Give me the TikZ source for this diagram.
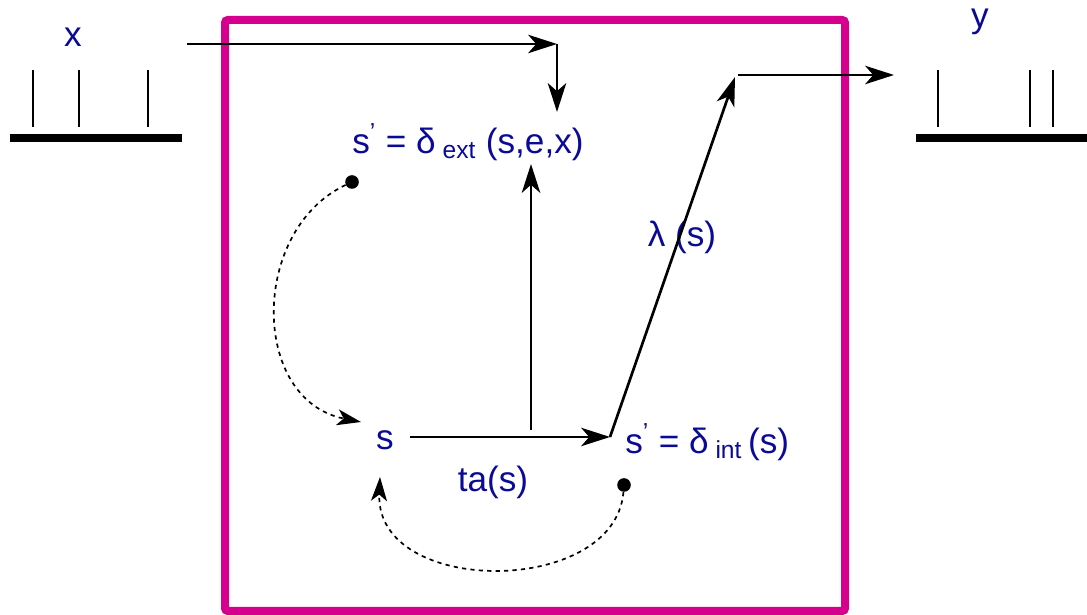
\documentclass[tikz,border=0pt]{standalone}
\usepackage{fontspec}
\setmainfont{Liberation Sans}
\usepackage{tikz}
\usetikzlibrary{arrows.meta,positioning}
\definecolor{devsblue}{RGB}{10,10,150}
\definecolor{devsmag}{RGB}{214,0,142}

\begin{document}
\begin{tikzpicture}[x=0.025cm, y=-0.025cm,
  lbl/.style={text=devsblue, font=\fontsize{25}{29}\selectfont, inner sep=0pt},
  arr/.style={-{Stealth[length=7.2mm, width=4.6mm, inset=2mm]}, line width=1.9pt},
  dsh/.style={-{Stealth[length=6mm, width=4mm, inset=1.6mm]}, line width=1.2pt, dashed},
  bar/.style={line width=2.2mm},
  tick/.style={line width=0.6mm},
  dot/.style={circle, fill=black, inner sep=0pt, minimum size=3.4mm}]

\useasboundingbox (0,0) rectangle (1087,615);

% atomic model box
\draw[devsmag, line width=2mm, rounded corners=2pt] (225,20) rectangle (845,611);

% input and output event segments
\draw[bar] (10,138) -- (182,138);
\foreach \t in {33,79,148} \draw[tick] (\t,70) -- (\t,127);
\draw[bar] (916,138) -- (1087,138);
\foreach \t in {938,1030,1053} \draw[tick] (\t,70) -- (\t,127);
\node[lbl] (xin) at (73,37) {x};
\node[lbl] (yout) at (980,22) {y};

% states
\node[lbl] (ext) at (468,142) {s\textsuperscript{’} = δ\textsubscript{ ext} (s,e,x)};
\node[lbl] (s) at (385,440) {s};
\node[lbl, anchor=west] (int) at (625,442) {s\textsuperscript{’} = δ\textsubscript{ int}\,(s)};
\node[lbl] (ta) at (493,482) {ta(s)};
\node[lbl] (lam) at (682,237) {λ (s)};

\coordinate (xsrc) at (187,44);
\coordinate (xcorner) at (557,44);
\coordinate (xtip) at (557,112);
\coordinate (tafrom) at (410,437);
\coordinate (tato) at (610,437);
\coordinate (extup) at (531,430);
\coordinate (extin) at (531,164);
\coordinate (lamtop) at (735,77);
\coordinate (ysrc) at (738,75);
\coordinate (ytip) at (894,75);
\node[dot] (d1) at (352,182) {};
\node[dot] (d2) at (624,485) {};

\draw[arr] (xsrc) -- (xcorner);
\draw[arr] (xcorner) -- (xtip);
\draw[arr] (tafrom) -- (tato);
\draw[arr] (extup) -- (extin);
\draw[arr] (tato) -- (lamtop);
\draw[arr] (ysrc) -- (ytip);
\draw[dsh] (d1) .. controls (250,230) and (250,400) .. (361,422);
\draw[dsh] (d2) .. controls (615,597) and (375,597) .. (380,477);
\end{tikzpicture}
\end{document}
